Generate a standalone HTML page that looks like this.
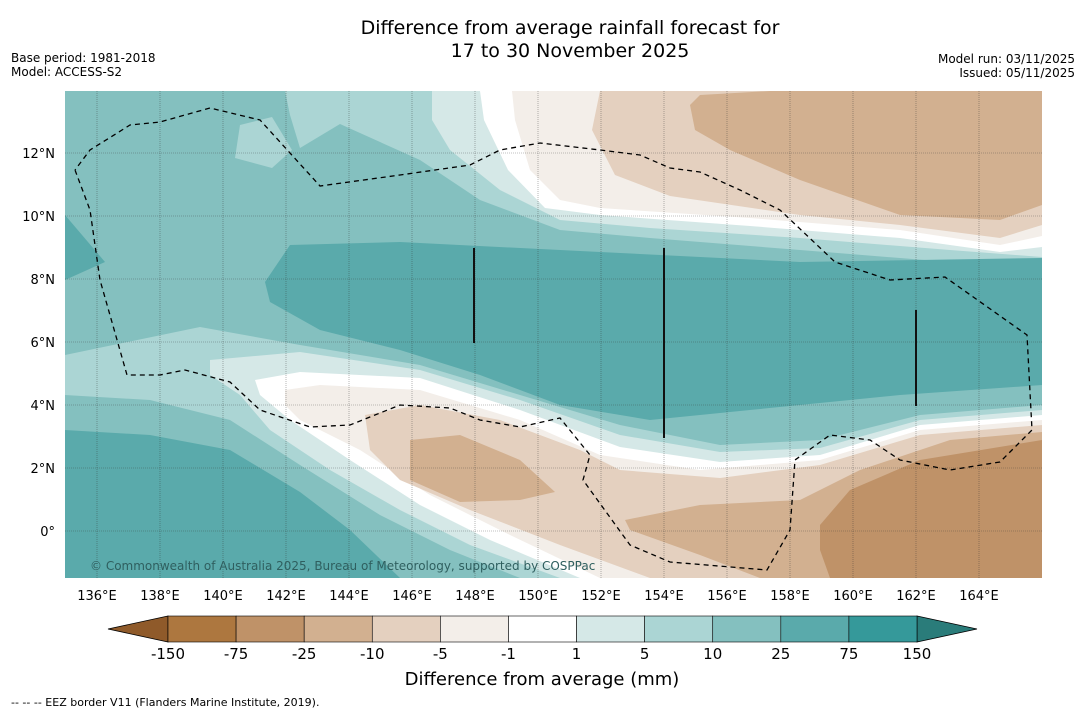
<!DOCTYPE html>
<html><head><meta charset="utf-8"><style>
body{margin:0;background:#fff;font-family:"Liberation Sans","DejaVu Sans",sans-serif;}
svg text{font-family:"DejaVu Sans","Liberation Sans",sans-serif;}
</style></head><body>
<svg id="chart" width="1085" height="713" viewBox="0 0 1085 713" xmlns="http://www.w3.org/2000/svg">
<text x="570" y="34" text-anchor="middle" font-size="19">Difference from average rainfall forecast for</text>
<text x="570" y="57" text-anchor="middle" font-size="19">17 to 30 November 2025</text>
<text x="11" y="62" font-size="12">Base period: 1981-2018</text>
<text x="11" y="76" font-size="12">Model: ACCESS-S2</text>
<text x="1075" y="63" font-size="12" text-anchor="end">Model run: 03/11/2025</text>
<text x="1075" y="77" font-size="12" text-anchor="end">Issued: 05/11/2025</text>
<defs><clipPath id="mapclip"><rect x="65" y="91" width="977" height="487"/></clipPath></defs>
<g id="map" clip-path="url(#mapclip)"></g>
<g id="axes"></g>
<g id="cbar"></g>
<text x="542" y="685" text-anchor="middle" font-size="18">Difference from average (mm)</text>
<text x="11" y="706" font-size="11">--  --  -- EEZ border V11 (Flanders Marine Institute, 2019).</text>
</svg>
<script>
const lonTicks=[136,138,140,142,144,146,148,150,152,154,156,158,160,162,164];
const latTicks=[12,10,8,6,4,2,0];
const cbLevels=["-150","-75","-25","-10","-5","-1","1","5","10","25","75","150"];
const cbColors=["#ad773f","#bf9268","#d2b090","#e4d0bf","#f3eee9","#ffffff","#d5e8e7","#abd5d4","#84c0bf","#5aaaab","#35999a"];
const cbLow="#8f5a2a", cbHigh="#2a7c7a";
const X=lon=>97+(lon-136)*31.5, Y=lat=>531-lat*31.5;
const NS="http://www.w3.org/2000/svg";
function mk(tag,attrs,parent){const e=document.createElementNS(NS,tag);for(const k in attrs)e.setAttribute(k,attrs[k]);parent.appendChild(e);return e;}
const map=document.getElementById('map'),axes=document.getElementById('axes'),cbar=document.getElementById('cbar');
const regions=[
["#84c0bf","65,91 1042,91 1042,578 65,578"],
["#5aaaab","65,215 105,262 65,280"],
["#abd5d4","285,91 1042,91 1042,270 950,262 800,250 650,238 560,230 480,200 420,160 340,124 300,148 290,115"],
["#abd5d4","240,125 272,117 292,150 272,168 235,158"],
["#d5e8e7","432,91 1042,91 1042,257 950,250 800,238 650,228 560,220 500,190 450,150 432,120"],
["#ffffff","480,91 1042,91 1042,247 1000,252 900,238 750,226 600,215 545,208 508,170 484,120"],
["#f3eee9","512,91 1042,91 1042,236 1000,245 900,230 750,218 600,208 560,200 530,170 515,120"],
["#e4d0bf","600,91 1042,91 1042,225 1000,238 900,225 800,215 670,196 615,175 592,130"],
["#d2b090","700,95 770,91 1042,91 1042,205 1000,220 900,215 800,180 730,150 695,130 690,105"],
["#5aaaab","265,282 290,245 400,242 600,252 800,262 1042,258 1042,385 900,395 750,410 650,420 560,405 480,375 400,350 320,330 270,302"],
["#abd5d4","65,355 200,327 300,345 420,365 520,395 620,425 720,445 820,440 920,415 1042,405 1042,578 520,578 450,550 380,515 300,465 230,420 150,400 65,395"],
["#5aaaab","65,430 150,435 230,450 300,492 350,530 400,578 65,578"],
["#d5e8e7","210,360 300,352 420,370 520,400 620,435 720,452 820,448 920,420 1042,410 1042,578 560,578 470,545 400,510 330,470 270,430 240,395 210,375"],
["#ffffff","255,380 300,372 420,378 520,410 620,447 720,462 820,455 920,425 1042,415 1042,578 580,578 490,540 420,505 350,460 290,420 260,395"],
["#f3eee9","285,390 320,385 420,390 520,420 600,455 700,470 820,460 920,430 1042,420 1042,578 600,578 510,535 430,495 360,450 300,420 285,405"],
["#e4d0bf","365,415 420,405 500,420 580,450 620,470 720,478 820,465 920,435 1042,425 1042,578 650,578 560,545 470,510 400,480 370,450"],
["#d2b090","410,440 460,435 520,460 555,492 520,500 460,502 410,480"],
["#d2b090","625,520 700,505 800,500 860,470 950,440 1042,432 1042,578 760,578 700,555 630,530"],
["#bf9268","820,525 850,490 920,460 1042,440 1042,578 830,578 820,550"]
];
regions.forEach((r,i)=>{const p=mk('polygon',{points:r[1],fill:r[0]},map);

});
lonTicks.forEach(l=>{const g=mk('line',{x1:X(l),x2:X(l),y1:91,y2:578,stroke:'#333','stroke-width':0.6,'stroke-dasharray':'1,1',opacity:0.6},map);


const t=mk('text',{x:X(l),y:600,'text-anchor':'middle','font-size':13},axes);t.textContent=l+'°E';

});
latTicks.forEach(l=>{const g=mk('line',{x1:65,x2:1042,y1:Y(l),y2:Y(l),stroke:'#333','stroke-width':0.6,'stroke-dasharray':'1,1',opacity:0.6},map);


const t=mk('text',{x:55,y:Y(l)+5,'text-anchor':'end','font-size':13},axes);t.textContent=l===0?'0°':l+'°N';

});
[[474,248,343],[664,248,438],[916,310,406]].forEach(v=>{const l=mk('line',{x1:v[0],x2:v[0],y1:v[1],y2:v[2],stroke:'#111','stroke-width':2},map);

});
const eez=mk('polyline',{points:"75,170 90,210 100,280 127,375 160,375 185,370 230,382 260,410 310,427 350,425 400,405 450,408 480,420 520,427 560,418 590,455 583,480 630,545 670,562 767,570 790,530 795,460 830,435 870,440 900,460 950,470 1000,462 1032,430 1027,335 945,277 890,280 835,262 780,210 740,190 700,172 670,168 640,155 600,150 540,143 500,150 470,165 400,175 320,186 260,120 210,108 160,122 130,125 90,150 75,170",fill:'none',stroke:'#000','stroke-width':1.3,'stroke-dasharray':'5,4'},map);


const cr=mk('text',{x:90,y:570,'font-size':12,fill:'#2f5f5f'},map);cr.textContent='© Commonwealth of Australia 2025, Bureau of Meteorology, supported by COSPPac';


const cx0=168,cw=(917-168)/cbColors.length,cy=616,ch=26;
const lt=mk('polygon',{points:`108,${cy+ch/2} ${cx0},${cy} ${cx0},${cy+ch}`,fill:cbLow,stroke:'#000','stroke-width':0.8},cbar);


const rt=mk('polygon',{points:`977,${cy+ch/2} 917,${cy} 917,${cy+ch}`,fill:cbHigh,stroke:'#000','stroke-width':0.8},cbar);


cbColors.forEach((c,i)=>{const r=mk('rect',{x:cx0+i*cw,y:cy,width:cw,height:ch,fill:c,stroke:'#000','stroke-width':0.6},cbar);

});
cbLevels.forEach((s,i)=>{const t=mk('text',{x:cx0+i*cw,y:659,'text-anchor':'middle','font-size':15},cbar);t.textContent=s;

});
</script>
</body></html>
